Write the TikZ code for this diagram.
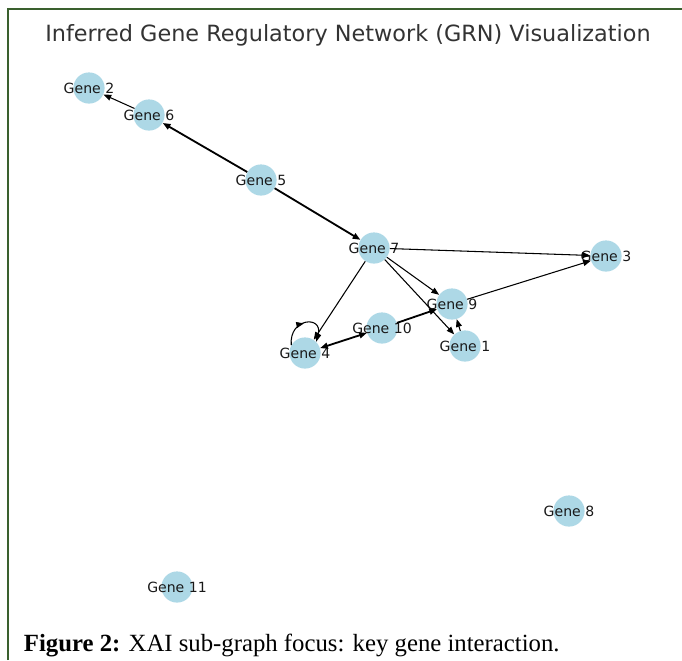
\documentclass[tikz,border=0pt]{standalone}
\usepackage{fontspec}
\setmainfont{Liberation Serif}
\newfontfamily\plotfont{DejaVu Sans}
\usetikzlibrary{arrows.meta,decorations.markings}

\definecolor{genefill}{RGB}{173,216,230}
\definecolor{framegreen}{RGB}{58,96,46}

\tikzset{
  gene/.style={circle, fill=genefill, minimum size=0.78cm, inner sep=0pt},
  genetext/.style={font=\plotfont\fontsize{10}{12}\selectfont, text=black!90, inner sep=0pt},
  edge/.style={-{Triangle[length=5.5pt,width=4.2pt]}, line width=0.75pt, black},
  heavyedge/.style={edge, line width=1.3pt},
  midarrow/.style={postaction={decorate, decoration={markings,
      mark=at position 0.5 with {\arrow{Triangle[length=5.5pt,width=4.2pt]}}}}}
}

\begin{document}
\begin{tikzpicture}[x=0.025cm, y=-0.025cm]
	\useasboundingbox (0,0) rectangle (682,660);
	
	% frame lines
	\draw[framegreen, line width=1.4pt] (8,660) -- (8,9) -- (682,9);
	
	\node[font=\plotfont\fontsize{15.9}{18}\selectfont, text=black!80] (title) at (348,35)
		{Inferred Gene Regulatory Network (GRN) Visualization};
	
	% genes
	\foreach \n/\x/\y in {2/89/88, 6/149/115, 5/261/180, 7/374/248, 3/606/256,
		9/452/304, 10/382/328, 1/465/346, 4/305/353, 8/569/511, 11/177/587}
	\node[gene, label={[genetext]center:Gene \n}] (g\n) at (\x,\y) {};
	
	% regulation edges
	\foreach \a/\b in {6/2, 7/3, 7/9, 7/1, 7/4, 1/9, 9/3}
	\draw[edge] (g\a) -- (g\b);
	
	\foreach \a/\b in {5/6, 5/7, 10/9}
	\draw[heavyedge] (g\a) -- (g\b);
	
	\draw[heavyedge, {Triangle[length=5.5pt,width=4.2pt]}-{Triangle[length=5.5pt,width=4.2pt]}] (g4) -- (g10);
	
	% self loop on gene 4
	\draw[edge, midarrow] (g4.150) to[out=95, in=75, looseness=2.8] (g4.45);
	
	\node[anchor=base west, font=\fontsize{17.6}{20}\selectfont] (caption) at (19,651)
		{\textbf{Figure 2:} XAI sub-graph focus: key gene interaction.};
	
\end{tikzpicture}
\end{document}
